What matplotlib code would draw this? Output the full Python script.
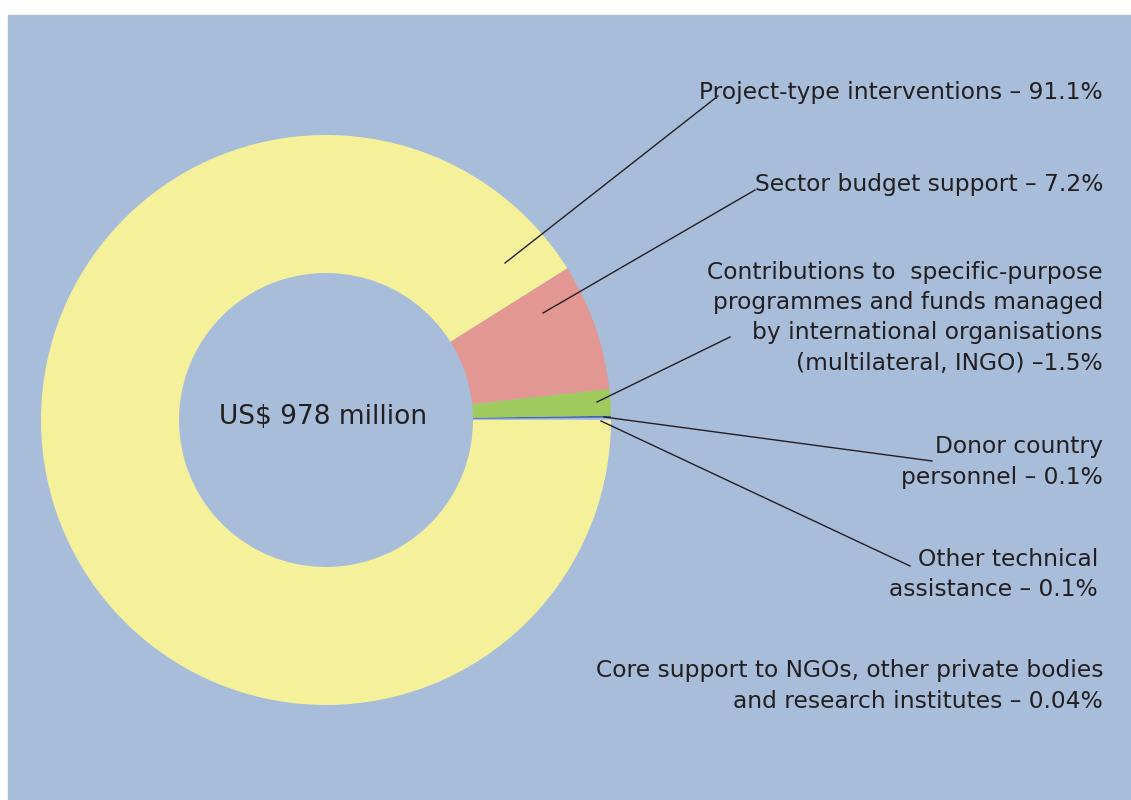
import matplotlib.pyplot as plt
from matplotlib.patches import Rectangle

# spending by aid type, share of total (%)
labels = [
    "Core support to NGOs, other private bodies\nand research institutes \u2013 0.04%",
    "Other technical\nassistance \u2013 0.1%",
    "Donor country\npersonnel \u2013 0.1%",
    "Contributions to  specific-purpose\nprogrammes and funds managed\nby international organisations\n(multilateral, INGO) \u20131.5%",
    "Sector budget support \u2013 7.2%",
    "Project-type interventions \u2013 91.1%",
]
shares = [0.04, 0.1, 0.1, 1.5, 7.2, 91.1]
colors = ["#c9d6ea", "#9db4dc", "#3d62ae", "#9fcb5e", "#e39792", "#f5f19b"]
total_label = "US$ 978 million"

bg = "#a8bdda"
ink = "#231f20"
W, H = 1131, 800
FONT = "DejaVu Sans"

fig = plt.figure(figsize=(W / 100, H / 100), dpi=100, facecolor="white")
ax = fig.add_axes([0, 0, 1, 1])

ax.add_patch(Rectangle((8, 0), W - 8, H - 15, color=bg, zorder=0))

cx, cy, r_out, r_in = 326, H - 420, 285, 147
ax.pie(shares, colors=colors, startangle=0, counterclock=True,
       center=(cx, cy), radius=r_out, frame=True,
       wedgeprops=dict(width=r_out - r_in, linewidth=0))
ax.set_xlim(0, W)
ax.set_ylim(0, H)
ax.set_aspect("equal")
ax.axis("off")

ax.text(cx - 3, H - 417, total_label, ha="center", va="center",
        fontsize=19, color=ink, family=FONT)

# label blocks: (label index, right edge x, top line centre y)
label_pos = [
    (5, 1103, 92),
    (4, 1103, 185),
    (3, 1103, 272),
    (2, 1103, 447),
    (1, 1098, 559),
    (0, 1103, 671),
]
for i, x, y in label_pos:
    lines = labels[i].split("\n")
    for k, line in enumerate(lines):
        ax.text(x, H - (y + k * 30.5), line, ha="right", va="center",
                fontsize=16.8, color=ink, family=FONT)

# leader lines from wedge to label
leaders = [
    ((505, 263), (718, 96)),
    ((543, 313), (755, 190)),
    ((597, 402), (730, 337)),
    ((604, 417), (932, 461)),
    ((601, 421), (910, 566)),
]
for (x0, y0), (x1, y1) in leaders:
    ax.plot([x0, x1], [H - y0, H - y1], color=ink, lw=1.0)

fig.savefig("out.png", dpi=100, facecolor="white")
